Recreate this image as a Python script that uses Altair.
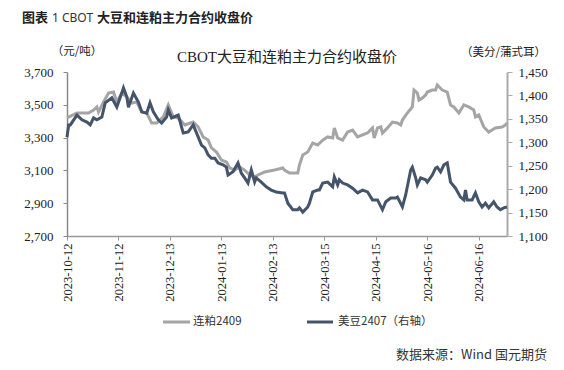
import altair as alt
import pandas as pd

# ---- data ----
meal_dates = ["2023-10-12","2023-10-18","2023-10-22","2023-10-25","2023-10-28","2023-10-30","2023-10-31",
              "2023-11-03","2023-11-06","2023-11-09","2023-11-11","2023-11-14","2023-11-17","2023-11-20","2023-11-23","2023-11-26","2023-11-29",
              "2023-12-02","2023-12-05","2023-12-09","2023-12-12","2023-12-15","2023-12-18","2023-12-22","2023-12-27","2023-12-30",
              "2024-01-02","2024-01-05","2024-01-07","2024-01-10","2024-01-13","2024-01-16","2024-01-18","2024-01-21","2024-01-24","2024-01-27","2024-01-30",
              "2024-02-02","2024-02-04","2024-02-08","2024-02-14","2024-02-19","2024-02-20","2024-02-23","2024-02-25","2024-02-28","2024-02-29",
              "2024-03-02","2024-03-05","2024-03-08","2024-03-11","2024-03-14","2024-03-17","2024-03-20","2024-03-21","2024-03-23","2024-03-26","2024-03-29",
              "2024-04-01","2024-04-04","2024-04-07","2024-04-10","2024-04-13","2024-04-14","2024-04-16","2024-04-18","2024-04-19","2024-04-22","2024-04-25","2024-04-28","2024-04-30",
              "2024-05-01","2024-05-04","2024-05-07","2024-05-08","2024-05-10","2024-05-11","2024-05-13","2024-05-15","2024-05-16","2024-05-19","2024-05-21","2024-05-22","2024-05-25","2024-05-28","2024-05-30",
              "2024-06-01","2024-06-04","2024-06-07","2024-06-10","2024-06-13","2024-06-14","2024-06-16","2024-06-19","2024-06-22","2024-06-26","2024-06-30",
              "2024-07-02","2024-07-03"]
meal_vals = [3420,3450,3450,3450,3468,3487,3456,
             3517,3572,3578,3517,3572,3548,3511,3517,3456,3450,
             3389,3389,3426,3499,3426,3420,3377,3395,3365,
             3304,3285,3237,3212,3163,3151,3115,3102,3121,3102,3072,
             3060,3072,3090,3102,3115,3102,3084,3084,3084,3133,
             3194,3212,3267,3255,3285,3304,3298,3359,3298,3285,3334,
             3346,3304,3316,3328,3359,3298,3359,3365,3328,3359,3395,3389,3377,
             3407,3450,3487,3590,3572,3529,3541,3560,3578,3590,3590,3621,3590,3578,3499,
             3487,3450,3499,3487,3468,3426,3438,3365,3334,3359,3365,
             3377,3389]

bean_dates = ["2023-10-12","2023-10-13","2023-10-14","2023-10-18","2023-10-21","2023-10-24","2023-10-26","2023-10-28","2023-10-30",
              "2023-11-02","2023-11-04","2023-11-08","2023-11-11","2023-11-14","2023-11-15","2023-11-17","2023-11-18","2023-11-21","2023-11-24","2023-11-26","2023-11-29",
              "2023-12-01","2023-12-03","2023-12-06","2023-12-08","2023-12-11","2023-12-12","2023-12-14","2023-12-18","2023-12-21","2023-12-24","2023-12-27","2023-12-29",
              "2024-01-01","2024-01-03","2024-01-05","2024-01-07","2024-01-09","2024-01-11","2024-01-14","2024-01-16","2024-01-17","2024-01-20","2024-01-23","2024-01-25","2024-01-27","2024-01-29","2024-01-31",
              "2024-02-02","2024-02-03","2024-02-06","2024-02-09","2024-02-12","2024-02-15","2024-02-19","2024-02-20","2024-02-22","2024-02-25","2024-02-28","2024-02-29",
              "2024-03-02","2024-03-05","2024-03-06","2024-03-08","2024-03-11","2024-03-12","2024-03-14","2024-03-17","2024-03-20","2024-03-21","2024-03-23","2024-03-24","2024-03-26","2024-03-29",
              "2024-04-01","2024-04-04","2024-04-07","2024-04-10","2024-04-13","2024-04-16","2024-04-19","2024-04-21","2024-04-24","2024-04-27","2024-04-28",
              "2024-05-01","2024-05-03","2024-05-06","2024-05-07","2024-05-09","2024-05-10","2024-05-12","2024-05-15","2024-05-16","2024-05-19","2024-05-21","2024-05-22","2024-05-24","2024-05-26","2024-05-28","2024-05-30",
              "2024-06-02","2024-06-05","2024-06-07","2024-06-08","2024-06-09","2024-06-12","2024-06-14","2024-06-16","2024-06-18","2024-06-20","2024-06-22","2024-06-25","2024-06-27","2024-06-29",
              "2024-07-01","2024-07-03"]
bean_vals = [1311,1337,1337,1358,1348,1343,1337,1352,1348,
             1354,1384,1395,1375,1405,1416,1397,1375,1405,1386,1365,1362,
             1384,1365,1348,1341,1354,1369,1352,1358,1320,1322,1337,1320,
             1294,1288,1273,1266,1266,1256,1252,1247,1230,1237,1256,1234,1224,1213,1241,
             1215,1224,1215,1205,1198,1194,1192,1192,1170,1156,1156,1160,
             1151,1162,1170,1194,1198,1198,1213,1215,1205,1226,1209,1220,1213,1209,
             1202,1192,1198,1194,1177,1177,1156,1173,1181,1181,1183,
             1162,1188,1241,1247,1224,1209,1224,1220,1215,1230,1245,1247,1237,1252,1256,1215,
             1202,1183,1177,1198,1177,1177,1192,1173,1162,1170,1160,1173,1162,1156,
             1160,1162]

x_ticks = [(2023,10,12),(2023,11,12),(2023,12,13),(2024,1,13),(2024,2,13),
           (2024,3,15),(2024,4,15),(2024,5,16),(2024,6,16)]
left_ticks = [2700, 2900, 3100, 3300, 3500, 3700]
right_ticks = [1100, 1150, 1200, 1250, 1300, 1350, 1400, 1450]

df_meal = pd.DataFrame({"date": meal_dates, "value": meal_vals})
df_bean = pd.DataFrame({"date": bean_dates, "value": bean_vals})

SERIF = "Liberation Serif, Noto Sans CJK SC"
CJK = "Noto Sans CJK SC"
GRAY = "#A5A5A5"
NAVY = "#44546A"
AXIS_FONT = "Liberation Serif"

def dt(t):
    return alt.DateTime(year=t[0], month=t[1], date=t[2], utc=True)

x_enc = alt.X(
    "date:T",
    scale=alt.Scale(type="utc", domain=[dt((2023, 10, 12)), dt((2024, 7, 3))]),
    axis=alt.Axis(values=[dt(t) for t in x_ticks],
                  labelExpr="utcFormat(datum.value, '%Y-%m-%d')",
                  labelAngle=270, title=None, grid=False,
                  domainColor="#999", domainWidth=1.5,
                  tickColor="#999", tickSize=4, labelPadding=3, labelOverlap=False,
                  labelFont=AXIS_FONT, labelFontSize=12.5, labelColor="#222"),
)

meal = alt.Chart(df_meal).mark_line(color=GRAY, strokeWidth=3).encode(
    x=x_enc,
    y=alt.Y("value:Q", scale=alt.Scale(domain=[2700, 3700], nice=False, zero=False),
            axis=alt.Axis(orient="left", values=left_ticks,
                          labelExpr="format(datum.value, ',')", title=None, grid=False,
                          domainColor="#888", domainWidth=1.5, tickColor="#888", tickSize=4,
                          labelPadding=10, labelFont=AXIS_FONT, labelFontSize=13,
                          labelColor="#222")),
)

bean = alt.Chart(df_bean).mark_line(color=NAVY, strokeWidth=3).encode(
    x=x_enc,
    y=alt.Y("value:Q", scale=alt.Scale(domain=[1100, 1450], nice=False, zero=False),
            axis=alt.Axis(orient="right", values=right_ticks,
                          labelExpr="format(datum.value, ',')", title=None, grid=False,
                          domainColor="#AAAAAA", domainWidth=2, tickColor="#AAAAAA", tickSize=5,
                          labelPadding=6, labelFont=AXIS_FONT, labelFontSize=13,
                          labelColor="#222")),
)

def text(t, x, y, size, font=CJK, align="left", weight="normal", color="#222", baseline="middle"):
    return alt.Chart(pd.DataFrame({"t": [t]})).mark_text(
        align=align, baseline=baseline, font=font, fontSize=size, fontWeight=weight, color=color
    ).encode(x=alt.value(x), y=alt.value(y), text="t:N")

def legend_line(x1, x2, y, color):
    return alt.Chart(pd.DataFrame({"a": [0]})).mark_rule(color=color, strokeWidth=3).encode(
        x=alt.value(x1), x2=alt.value(x2), y=alt.value(y))

texts = [
    text("图表", -45, -50, 13, weight="bold", baseline="alphabetic"),
    text("1 CBOT", -15, -50, 12, font="Noto Sans", color="#333", baseline="alphabetic"),
    text("大豆和连粕主力合约收盘价", 30, -50, 13, weight="bold", baseline="alphabetic"),
    text("CBOT大豆和连粕主力合约收盘价", 220, -15, 15, font=SERIF, align="center"),
    text("（元/吨）", 10, -20, 11.5, align="center"),
    text("（美分/蒲式耳）", 479, -19, 11.5, align="right"),
    legend_line(96, 123, 250, GRAY),
    text("连粕2409", 126, 250, 11.5, color="#333"),
    legend_line(240, 266, 250, NAVY),
    text("美豆2407（右轴）", 271, 250, 11.5, color="#333"),
    text("数据来源：Wind 国元期货", 480, 283, 13, align="right", color="#333"),
]

chart = alt.layer(meal, bean, *texts).resolve_scale(y="independent").properties(
    width=440, height=164,
    padding={"left": 59, "top": 64, "right": 49, "bottom": 126},
    autosize=alt.AutoSizeParams(type="none"),
    background="white",
).configure_view(stroke=None).configure_axis(
    labelFont=AXIS_FONT, labelFontSize=13, labelColor="#222"
)

chart.save("out.html", embed_options={"renderer": "svg", "actions": False})
